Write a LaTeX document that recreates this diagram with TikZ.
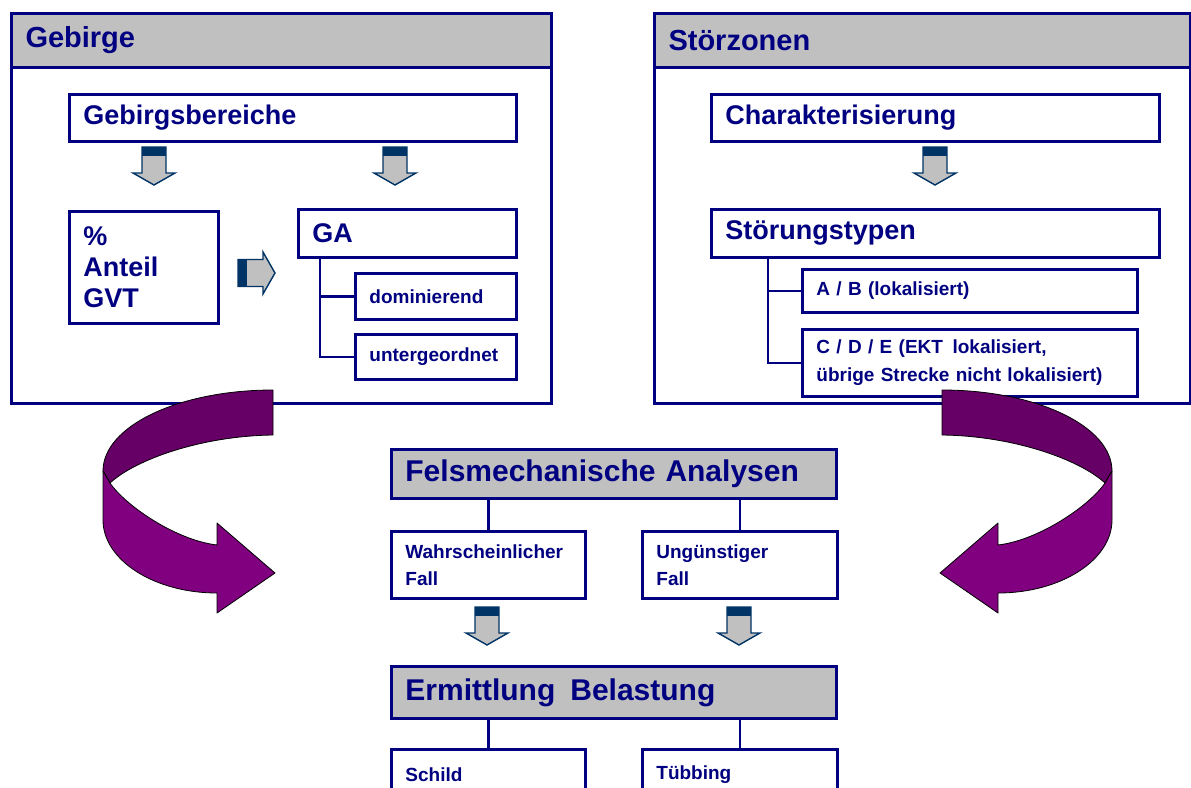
\documentclass[tikz,border=0pt]{standalone}
\usepackage{fontspec}
\setmainfont{Liberation Sans}
\definecolor{navy}{HTML}{000080}
\definecolor{boxgray}{HTML}{C0C0C0}
\definecolor{capblue}{HTML}{003366}
\definecolor{purpledark}{HTML}{660066}
\definecolor{purplelight}{HTML}{800080}

\tikzset{
  boxsize/.style 2 args={minimum width=#1pt, text width=#1pt-28pt, minimum height=#2pt},
  box/.style={draw=navy, line width=2.8pt, fill=white, anchor=north west,
    inner xsep=14pt, inner ysep=0pt, align=left, text=navy,
    font=\bfseries\fontsize{27}{31}\selectfont},
  outer/.style={draw=navy, line width=3pt, anchor=north west, inner sep=0pt},
  header/.style={box, fill=boxgray, line width=3pt, font=\bfseries\fontsize{29}{33}\selectfont},
  bighead/.style={box, fill=boxgray, font=\bfseries\fontsize{30}{34}\selectfont},
  small/.style={font=\bfseries\fontsize{19}{28}\selectfont},
  lower/.style={font=\bfseries\fontsize{19}{27}\selectfont},
  conn/.style={draw=navy, line width=2.8pt},
  ribbon/.style={draw=black, line width=0.8pt, line join=round},
  blockdown/.pic={
    \draw[capblue, line width=1.4pt, fill=boxgray] (-12,0) -- (12,0) -- (12,26) -- (21,26)
      -- (0,38) -- (-21,26) -- (-12,26) -- cycle;
    \fill[capblue] (-12,0) rectangle (12,9);
  },
  blockright/.pic={
    \draw[capblue, line width=1.4pt, fill=boxgray] (0,-13.5) -- (25,-13.5) -- (25,-21)
      -- (37,0) -- (25,21) -- (25,13.5) -- (0,13.5) -- cycle;
    \fill[capblue] (0,-13.5) rectangle (9,13.5);
  }
}

\begin{document}
\begin{tikzpicture}[x=1pt, y=-1pt]
	\useasboundingbox[fill=white] (0,0) rectangle (1191,787);
	
	%Gebirge
	\node[outer, boxsize={540}{390}] (geb) at (10,12) {};
	\node[header, boxsize={540}{54}] (gebhead) at (10,12) {Gebirge};
	\node[box, boxsize={447}{47}] (gbb) at (68,93) {Gebirgsbereiche};
	\node[box, boxsize={149}{112}] (anteil) at (68,210) {\%\\Anteil\\GVT};
	\node[box, boxsize={218}{48}] (ga) at (297,208) {GA};
	\node[box, small, boxsize={161}{46}] (dom) at (354,272) {dominierend};
	\node[box, small, boxsize={161}{45}] (unt) at (354,333) {untergeordnet};
	\draw[conn] ([xshift=23pt]ga.south west) |- (dom.west);
	\draw[conn] ([xshift=23pt]ga.south west) |- (unt.west);
	\pic at (154,147) {blockdown};
	\pic at (395,147) {blockdown};
	\pic at (238,273) {blockright};
	
	%Stoerzonen
	\node[outer, boxsize={536}{390}] (stz) at (653,12) {};
	\node[header, boxsize={536}{54}] (stzhead) at (653,12) {Störzonen};
	\node[box, boxsize={448}{47}] (char) at (710,93) {Charakterisierung};
	\node[box, boxsize={448}{48}] (typ) at (710,208) {Störungstypen};
	\node[box, small, boxsize={335}{43}] (ab) at (801,268) {A / B (lokalisiert)};
	\node[box, small, boxsize={335}{67}] (cde) at (801,328) {C / D / E (EKT\, lokalisiert,\\übrige Strecke nicht lokalisiert)};
	\draw[conn] ([xshift=58pt]typ.south west) |- (ab.west);
	\draw[conn] ([xshift=58pt]typ.south west) |- (cde.west);
	\pic at (935,147) {blockdown};
	
	%Analysen
	\node[bighead, boxsize={445}{49}] (fma) at (390,448) {Felsmechanische Analysen};
	\node[box, lower, boxsize={194}{67}] (wf) at (390,530) {Wahrscheinlicher\\Fall};
	\node[box, lower, boxsize={195}{67}] (uf) at (641,530) {Ungünstiger\\Fall};
	\draw[conn] (wf.north) -- (wf.north |- fma.south);
	\draw[conn] (uf.north) -- (uf.north |- fma.south);
	\pic at (487,607) {blockdown};
	\pic at (739,607) {blockdown};
	
	%Belastung
	\node[bighead, boxsize={445}{52}] (eb) at (390,665) {Ermittlung\, Belastung};
	\node[box, lower, boxsize={194}{50}] (schild) at (390,748) {Schild};
	\node[box, lower, boxsize={195}{50}] (tueb) at (641,748) {Tübbing};
	\draw[conn] (schild.north) -- (schild.north |- eb.south);
	\draw[conn] (tueb.north) -- (tueb.north |- eb.south);
	
	%curved arrows
	\foreach \sx/\dx in {1/0, -1/1215}{
		\begin{scope}[xshift=\dx pt, xscale=\sx]
			\filldraw[ribbon, fill=purpledark] (273,390) .. controls (179,390) and (103,426) .. (103,471)
				-- (110,483) .. controls (135,460) and (200,436) .. (273,435) -- cycle;
			\filldraw[ribbon, fill=purplelight] (103,471) -- (103,520) .. controls (103,560) and (154,593) .. (217,593)
				-- (217,613) -- (275,573) -- (217,523) -- (217,545)
				.. controls (175,540) and (125,505) .. (110,483) -- cycle;
		\end{scope}
	}
\end{tikzpicture}
\end{document}
